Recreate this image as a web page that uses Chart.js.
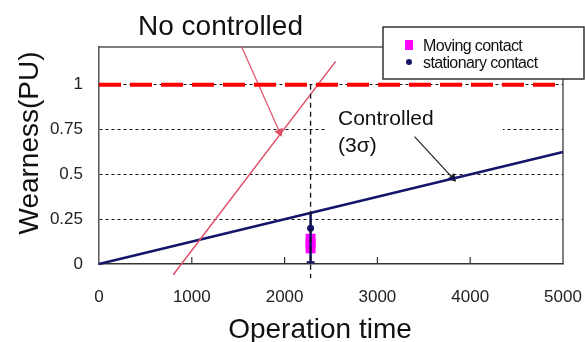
<!DOCTYPE html>
<html>
<head>
<meta charset="utf-8">
<script src="https://cdn.jsdelivr.net/npm/chart.js@4/dist/chart.umd.min.js"></script>
<style>
  html, body { margin: 0; padding: 0; background: #fff; }
</style>
</head>
<body>
<canvas id="chart" width="585" height="342"></canvas>
<script>
// Wear of contacts vs operation time
const X_TICKS = [0, 1000, 2000, 3000, 4000, 5000];
const Y_TICKS = [0, 0.25, 0.5, 0.75, 1];

const CONTROLLED_X = [0, 5000];
const CONTROLLED_Y = [0, 0.625];
const UNCONTROLLED_X = [800, 2550];
const UNCONTROLLED_Y = [-0.06, 1.13];
const LIMIT_X = [0, 5000];
const LIMIT_Y = [1, 1];

const CHECK_X = 2280;
const CHECK_LINE_Y = [1, -0.08];
const SPREAD_Y = [0.29, 0.01];
const CAP_X = [2237, 2323];
const CAP_Y = [0.01, 0.01];
const MOVING_Y = [0.087, 0.114, 0.141];
const STATIONARY_Y = [0.2, 0.12];

const NOTE_RED_X = [1534, 1946];
const NOTE_RED_Y = [1.214, 0.736];
const NOTE_BLACK_X = [3400, 3810];
const NOTE_BLACK_Y = [0.71, 0.48];

const FONT = "'Liberation Sans', Arial, sans-serif";
const NAVY = '#14146a';
const MAGENTA = '#ff00ff';

const pts = (xs, ys) => xs.map((x, i) => ({ x: x, y: ys[i] }));
const same = (x, ys) => ys.map(y => ({ x: x, y: y }));

Chart.defaults.font.family = FONT;

const line = (data, color, width, extra) => Object.assign({
  data: data, showLine: true, borderColor: color, backgroundColor: color,
  borderWidth: width, pointRadius: 0, pointHoverRadius: 0, clip: false,
}, extra || {});

const datasets = [
  line(pts(LIMIT_X, LIMIT_Y), '#ff0000', 4, { label: 'limit', borderDash: [22, 9] }),
  line(same(CHECK_X, CHECK_LINE_Y), '#111', 1.3, { label: 'check', borderDash: [5, 4] }),
  line(pts(UNCONTROLLED_X, UNCONTROLLED_Y), '#e0506a', 1.5, { label: 'No controlled' }),
  line(pts(CONTROLLED_X, CONTROLLED_Y), NAVY, 2.5, { label: 'Controlled' }),
  line(same(CHECK_X, SPREAD_Y), NAVY, 2.5, { label: 'spread' }),
  line(pts(CAP_X, CAP_Y), NAVY, 2, { label: 'cap' }),
  line(pts(NOTE_RED_X, NOTE_RED_Y), '#e0506a', 1.2, {
    label: 'note red', pointRadius: [0, 4], pointStyle: 'triangle', pointRotation: 156,
  }),
  line(pts(NOTE_BLACK_X, NOTE_BLACK_Y), '#222', 1.2, {
    label: 'note black', pointRadius: [0, 4], pointStyle: 'triangle', pointRotation: 138,
  }),
  { label: 'Moving contact', data: same(CHECK_X, MOVING_Y), pointStyle: 'rect', pointRadius: 7,
    backgroundColor: MAGENTA, borderColor: MAGENTA, borderWidth: 0, clip: false },
  { label: 'stationary contact', data: same(CHECK_X, STATIONARY_Y), pointStyle: 'circle', pointRadius: 3.5,
    backgroundColor: NAVY, borderColor: NAVY, borderWidth: 0, clip: false },
];

const decor = {
  id: 'decor',
  beforeDatasetsDraw(chart) {
    const { ctx, chartArea: a, scales: { x, y } } = chart;
    ctx.save();
    // top and right frame
    ctx.strokeStyle = '#555';
    ctx.lineWidth = 1.5;
    ctx.beginPath();
    ctx.moveTo(a.left, a.top);
    ctx.lineTo(a.right, a.top);
    ctx.lineTo(a.right, a.bottom);
    ctx.stroke();
    // inward tick marks on x axis
    ctx.strokeStyle = '#333';
    ctx.lineWidth = 1.2;
    X_TICKS.slice(1, -1).forEach(v => {
      const px = x.getPixelForValue(v);
      ctx.beginPath();
      ctx.moveTo(px, a.bottom);
      ctx.lineTo(px, a.bottom - 7);
      ctx.stroke();
    });
    // white box behind the "Controlled" note
    ctx.fillStyle = '#fff';
    ctx.fillRect(325, 102, 178, 56);
    ctx.restore();
  },
  afterDraw(chart) {
    const { ctx } = chart;
    ctx.save();
    ctx.fillStyle = '#111';
    ctx.textBaseline = 'alphabetic';
    ctx.textAlign = 'left';
    ctx.font = '28px ' + FONT;
    ctx.fillText('No controlled', 138, 35);
    ctx.font = '21px ' + FONT;
    ctx.fillText('Controlled', 338, 125);
    ctx.fillText('(3\u03c3)', 338, 152);
    // axis titles
    ctx.font = '28px ' + FONT;
    ctx.textAlign = 'center';
    ctx.fillText('Operation time', 320, 338);
    ctx.translate(38, 143);
    ctx.rotate(-Math.PI / 2);
    ctx.fillText('Wearness(PU)', 0, 0);
    ctx.restore();

    // legend
    ctx.save();
    ctx.fillStyle = '#fff';
    ctx.fillRect(383, 27, 201, 52);
    ctx.strokeStyle = '#333';
    ctx.lineWidth = 1.5;
    ctx.strokeRect(383, 27, 201, 52);
    const moving = chart.data.datasets.find(d => d.label === 'Moving contact');
    const stat = chart.data.datasets.find(d => d.label === 'stationary contact');
    ctx.fillStyle = moving.backgroundColor;
    ctx.fillRect(405, 40, 8, 10);
    ctx.fillStyle = stat.backgroundColor;
    ctx.beginPath();
    ctx.arc(409, 62, 3, 0, Math.PI * 2);
    ctx.fill();
    ctx.fillStyle = '#111';
    ctx.font = '16px ' + FONT;
    ctx.textAlign = 'left';
    ctx.textBaseline = 'alphabetic';
    if ('letterSpacing' in ctx) ctx.letterSpacing = '-0.6px';
    ctx.fillText(moving.label, 423, 51);
    ctx.fillText(stat.label, 423, 68);
    ctx.restore();
  },
};

new Chart(document.getElementById('chart'), {
  type: 'scatter',
  data: { datasets: datasets },
  options: {
    responsive: false,
    animation: false,
    devicePixelRatio: 1,
    layout: { padding: { top: 47, right: 22, left: 0, bottom: 0 } },
    plugins: { legend: { display: false }, tooltip: { enabled: false } },
    scales: {
      x: {
        type: 'linear', min: 0, max: 5000,
        afterBuildTicks: s => { s.ticks = X_TICKS.map(v => ({ value: v })); },
        afterFit: s => { s.height = 78; s.paddingLeft = 0; s.paddingRight = 0; },
        grid: { display: false, drawTicks: false },
        border: { display: true, color: '#333', width: 1.5 },
        ticks: { color: '#222', font: { size: 17 }, padding: 23, maxRotation: 0, callback: v => String(v) },
      },
      y: {
        type: 'linear', min: 0, max: 1.21,
        afterBuildTicks: s => { s.ticks = Y_TICKS.map(v => ({ value: v })); },
        afterFit: s => { s.width = 99; s.paddingTop = 0; s.paddingBottom = 0; },
        grid: {
          drawTicks: false, lineWidth: 1,
          color: c => (c.tick && c.tick.value === 0) ? 'rgba(0,0,0,0)' : '#111',
        },
        border: { display: true, color: '#555', width: 1.5, dash: [3, 3] },
        ticks: { color: '#222', font: { size: 17 }, padding: 16, callback: v => String(v) },
      },
    },
  },
  plugins: [decor],
});
</script>
</body>
</html>
